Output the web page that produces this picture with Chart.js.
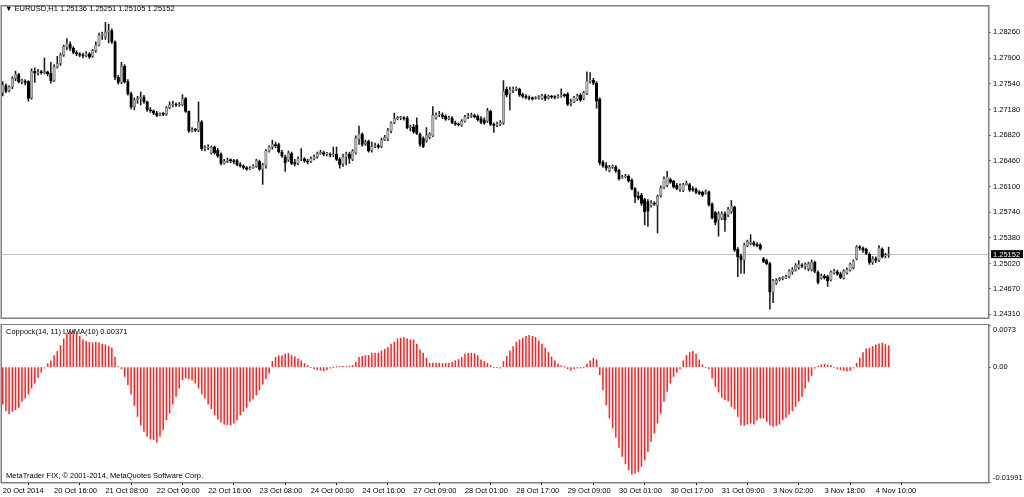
<!DOCTYPE html>
<html>
<head>
<meta charset="utf-8">
<title>EURUSD,H1 - Coppock</title>
<script src="https://cdn.jsdelivr.net/npm/chart.js@4.4.0/dist/chart.umd.min.js"></script>
<style>
  html, body { margin: 0; padding: 0; background: #fff; }
  #wrap { position: relative; width: 1024px; height: 497px; overflow: hidden; font-family: 'Liberation Sans', Arial, sans-serif; }
  #priceChart { position: absolute; left: 0; top: 0; }
  #oscChart { position: absolute; left: 0; top: 324px; }
  .lbl { position: absolute; font-size: 7.5px; line-height: 9px; color: #000; white-space: nowrap; }
</style>
</head>
<body>
<div id="wrap">
  <canvas id="priceChart" width="1024" height="324"></canvas>
  <canvas id="oscChart" width="1024" height="173"></canvas>
  <div class="lbl" id="symbolTitle" style="left:5px; top:4px;"></div>
  <div class="lbl" id="oscTitle" style="left:6px; top:327px;"></div>
  <div class="lbl" style="left:6px; top:471px;">MetaTrader FIX, © 2001-2014, MetaQuotes Software Corp.</div>
</div>
<script>
// EURUSD H1, 20 Oct 2014 00:00 .. 4 Nov 2014 12:00 (one entry per bar)
const open = [
  1.27415, 1.27515, 1.27443, 1.27492, 1.27615, 1.27669, 1.27569, 1.27578, 1.27569, 1.27342,
  1.27715, 1.27688, 1.27706, 1.27697, 1.27706, 1.27688, 1.27583, 1.27778, 1.27824, 1.27942,
  1.28060, 1.28096, 1.28037, 1.27978, 1.27960, 1.27942, 1.27933, 1.27960, 1.27924, 1.28005,
  1.28083, 1.28219, 1.28196, 1.28264, 1.28287, 1.28128, 1.27629, 1.27560, 1.27787, 1.27569,
  1.27401, 1.27220, 1.27311, 1.27333, 1.27356, 1.27288, 1.27174, 1.27161, 1.27129, 1.27097,
  1.27115, 1.27115, 1.27206, 1.27243, 1.27252, 1.27243, 1.27243, 1.27333, 1.27152, 1.26879,
  1.26898, 1.26888, 1.27007, 1.26630, 1.26643, 1.26571, 1.26652, 1.26607, 1.26553, 1.26425,
  1.26453, 1.26471, 1.26462, 1.26462, 1.26407, 1.26389, 1.26366, 1.26348, 1.26362, 1.26380,
  1.26448, 1.26344, 1.26389, 1.26598, 1.26652, 1.26689, 1.26689, 1.26584, 1.26516, 1.26471,
  1.26562, 1.26435, 1.26425, 1.26489, 1.26489, 1.26457, 1.26453, 1.26489, 1.26516, 1.26562,
  1.26575, 1.26553, 1.26553, 1.26539, 1.26553, 1.26480, 1.26416, 1.26516, 1.26553, 1.26480,
  1.26571, 1.26766, 1.26834, 1.26698, 1.26734, 1.26607, 1.26661, 1.26675, 1.26661, 1.26752,
  1.26766, 1.26879, 1.26993, 1.27052, 1.27061, 1.27061, 1.27061, 1.26925, 1.26934, 1.26961,
  1.26834, 1.26780, 1.26743, 1.26789, 1.26811, 1.27061, 1.27106, 1.27106, 1.27084, 1.27052,
  1.27061, 1.26993, 1.26975, 1.26961, 1.27016, 1.27070, 1.27088, 1.27093, 1.27084, 1.27052,
  1.27034, 1.27016, 1.27152, 1.26970, 1.26961, 1.26970, 1.26993, 1.27461, 1.27401, 1.27447,
  1.27461, 1.27461, 1.27388, 1.27365, 1.27347, 1.27333, 1.27333, 1.27342, 1.27333, 1.27370,
  1.27338, 1.27365, 1.27352, 1.27352, 1.27361, 1.27379, 1.27397, 1.27265, 1.27288, 1.27324,
  1.27383, 1.27333, 1.27406, 1.27578, 1.27588, 1.27551, 1.27324, 1.26444, 1.26394, 1.26326,
  1.26371, 1.26375, 1.26326, 1.26221, 1.26235, 1.26244, 1.26189, 1.26071, 1.25971, 1.25980,
  1.25917, 1.25890, 1.25835, 1.25862, 1.25835, 1.25971, 1.26085, 1.26117, 1.26198, 1.26171,
  1.26117, 1.26062, 1.26044, 1.26126, 1.26126, 1.26071, 1.26062, 1.26026, 1.26017, 1.26008,
  1.26026, 1.25853, 1.25735, 1.25631, 1.25654, 1.25717, 1.25699, 1.25744, 1.25812, 1.25218,
  1.25127, 1.25072, 1.25267, 1.25299, 1.25313, 1.25290, 1.25281, 1.25086, 1.25063, 1.25018,
  1.24618, 1.24746, 1.24791, 1.24809, 1.24814, 1.24836, 1.24905, 1.24927, 1.24964, 1.24991,
  1.24982, 1.24950, 1.24936, 1.25036, 1.24900, 1.24814, 1.24845, 1.24836, 1.24791, 1.24891,
  1.24905, 1.24873, 1.24814, 1.24891, 1.24927, 1.24964, 1.25086, 1.25254, 1.25236, 1.25218,
  1.25154, 1.25036, 1.25091, 1.25063, 1.25222, 1.25127, 1.25136
];
const high = [
  1.27569, 1.27538, 1.27515, 1.27642, 1.27719, 1.27688, 1.27606, 1.27597, 1.27583, 1.27751,
  1.27765, 1.27742, 1.27728, 1.27901, 1.27719, 1.27842, 1.27810, 1.27924, 1.27969, 1.28083,
  1.28173, 1.28128, 1.28060, 1.28001, 1.27978, 1.27969, 1.27992, 1.27978, 1.28023, 1.28128,
  1.28250, 1.28264, 1.28400, 1.28378, 1.28310, 1.28142, 1.27660, 1.27842, 1.27810, 1.27597,
  1.27424, 1.27342, 1.27365, 1.27424, 1.27379, 1.27297, 1.27206, 1.27174, 1.27152, 1.27133,
  1.27138, 1.27220, 1.27288, 1.27297, 1.27274, 1.27279, 1.27388, 1.27351, 1.27161, 1.26925,
  1.26916, 1.27288, 1.27025, 1.26675, 1.26689, 1.26670, 1.26666, 1.26634, 1.26571, 1.26480,
  1.26498, 1.26489, 1.26480, 1.26480, 1.26435, 1.26403, 1.26380, 1.26380, 1.26407, 1.26480,
  1.26471, 1.26425, 1.26616, 1.26670, 1.26752, 1.26721, 1.26707, 1.26607, 1.26539, 1.26598,
  1.26584, 1.26480, 1.26516, 1.26630, 1.26507, 1.26484, 1.26516, 1.26544, 1.26584, 1.26607,
  1.26598, 1.26580, 1.26571, 1.26652, 1.26652, 1.26507, 1.26553, 1.26584, 1.26584, 1.26616,
  1.26811, 1.26948, 1.26852, 1.26752, 1.26752, 1.26721, 1.26707, 1.26698, 1.26780, 1.26816,
  1.26916, 1.27007, 1.27129, 1.27084, 1.27084, 1.27079, 1.27079, 1.26961, 1.26970, 1.27061,
  1.26852, 1.26798, 1.26925, 1.26857, 1.27220, 1.27133, 1.27152, 1.27133, 1.27106, 1.27088,
  1.27079, 1.27016, 1.26993, 1.27038, 1.27097, 1.27124, 1.27129, 1.27115, 1.27106, 1.27079,
  1.27061, 1.27197, 1.27170, 1.26993, 1.27002, 1.27025, 1.27583, 1.27492, 1.27492, 1.27492,
  1.27497, 1.27479, 1.27411, 1.27388, 1.27370, 1.27356, 1.27361, 1.27374, 1.27392, 1.27397,
  1.27383, 1.27379, 1.27374, 1.27388, 1.27470, 1.27401, 1.27415, 1.27324, 1.27365, 1.27397,
  1.27401, 1.27433, 1.27706, 1.27697, 1.27615, 1.27569, 1.27342, 1.26462, 1.26435, 1.26398,
  1.26403, 1.26394, 1.26344, 1.26257, 1.26271, 1.26262, 1.26207, 1.26085, 1.26026, 1.26003,
  1.25935, 1.25917, 1.25903, 1.25890, 1.25980, 1.26108, 1.26235, 1.26312, 1.26217, 1.26185,
  1.26144, 1.26139, 1.26144, 1.26176, 1.26144, 1.26099, 1.26080, 1.26044, 1.26035, 1.26053,
  1.26040, 1.25871, 1.25753, 1.25744, 1.25744, 1.25744, 1.25808, 1.25903, 1.25826, 1.25245,
  1.25154, 1.25308, 1.25349, 1.25427, 1.25336, 1.25313, 1.25299, 1.25109, 1.25082, 1.25036,
  1.24800, 1.24809, 1.24827, 1.24836, 1.24859, 1.24936, 1.24964, 1.25018, 1.25063, 1.25018,
  1.25032, 1.25041, 1.25072, 1.25054, 1.24918, 1.24873, 1.24868, 1.24855, 1.24918, 1.24941,
  1.24927, 1.24900, 1.24936, 1.24959, 1.25027, 1.25072, 1.25272, 1.25272, 1.25254, 1.25236,
  1.25172, 1.25118, 1.25113, 1.25272, 1.25240, 1.25163, 1.25251
];
const low = [
  1.27370, 1.27415, 1.27424, 1.27470, 1.27583, 1.27551, 1.27538, 1.27524, 1.27297, 1.27324,
  1.27560, 1.27660, 1.27674, 1.27679, 1.27651, 1.27547, 1.27569, 1.27760, 1.27796, 1.27924,
  1.28014, 1.28005, 1.27960, 1.27933, 1.27915, 1.27901, 1.27915, 1.27896, 1.27910, 1.27978,
  1.28069, 1.28160, 1.28160, 1.28114, 1.28105, 1.27597, 1.27533, 1.27542, 1.27551, 1.27379,
  1.27188, 1.27174, 1.27265, 1.27243, 1.27265, 1.27152, 1.27138, 1.27106, 1.27079, 1.27088,
  1.27093, 1.27097, 1.27188, 1.27215, 1.27220, 1.27224, 1.27229, 1.27138, 1.26857, 1.26866,
  1.26870, 1.26870, 1.26607, 1.26598, 1.26616, 1.26553, 1.26553, 1.26507, 1.26403, 1.26412,
  1.26435, 1.26435, 1.26416, 1.26389, 1.26371, 1.26344, 1.26326, 1.26335, 1.26353, 1.26366,
  1.26326, 1.26130, 1.26357, 1.26580, 1.26625, 1.26643, 1.26571, 1.26507, 1.26312, 1.26453,
  1.26407, 1.26389, 1.26407, 1.26462, 1.26439, 1.26416, 1.26435, 1.26471, 1.26498, 1.26548,
  1.26530, 1.26530, 1.26516, 1.26516, 1.26462, 1.26357, 1.26380, 1.26403, 1.26425, 1.26462,
  1.26553, 1.26689, 1.26666, 1.26675, 1.26580, 1.26580, 1.26643, 1.26634, 1.26643, 1.26743,
  1.26743, 1.26852, 1.26979, 1.27034, 1.27038, 1.27029, 1.26907, 1.26879, 1.26843, 1.26825,
  1.26661, 1.26643, 1.26721, 1.26766, 1.26798, 1.27043, 1.27079, 1.27052, 1.27025, 1.27034,
  1.26979, 1.26957, 1.26948, 1.26943, 1.27002, 1.27052, 1.27070, 1.27061, 1.27020, 1.26979,
  1.26970, 1.26998, 1.26952, 1.26857, 1.26939, 1.26952, 1.26970, 1.27356, 1.27174, 1.27415,
  1.27443, 1.27361, 1.27342, 1.27329, 1.27315, 1.27311, 1.27324, 1.27324, 1.27320, 1.27302,
  1.27324, 1.27333, 1.27329, 1.27338, 1.27347, 1.27352, 1.27234, 1.27229, 1.27274, 1.27302,
  1.27293, 1.27315, 1.27388, 1.27547, 1.27529, 1.27197, 1.26403, 1.26366, 1.26326, 1.26303,
  1.26353, 1.26298, 1.26189, 1.26212, 1.26221, 1.26162, 1.26053, 1.25872, 1.25912, 1.25835,
  1.25563, 1.25540, 1.25812, 1.25835, 1.25449, 1.25949, 1.26071, 1.26099, 1.26144, 1.26076,
  1.26053, 1.26030, 1.26026, 1.26117, 1.26030, 1.26030, 1.25999, 1.25985, 1.25962, 1.25994,
  1.25826, 1.25645, 1.25563, 1.25404, 1.25636, 1.25472, 1.25676, 1.25722, 1.25190, 1.24836,
  1.24882, 1.24882, 1.25254, 1.25281, 1.25263, 1.25254, 1.25209, 1.25032, 1.25004, 1.24382,
  1.24473, 1.24727, 1.24777, 1.24791, 1.24809, 1.24818, 1.24873, 1.24914, 1.24941, 1.24964,
  1.24941, 1.24918, 1.24918, 1.24891, 1.24736, 1.24800, 1.24800, 1.24700, 1.24777, 1.24873,
  1.24855, 1.24809, 1.24800, 1.24873, 1.24914, 1.24946, 1.25072, 1.25209, 1.25177, 1.25145,
  1.25009, 1.25009, 1.25032, 1.25045, 1.25100, 1.25100, 1.25105
];
const close = [
  1.27524, 1.27433, 1.27492, 1.27615, 1.27674, 1.27569, 1.27578, 1.27560, 1.27333, 1.27719,
  1.27688, 1.27706, 1.27697, 1.27706, 1.27679, 1.27583, 1.27778, 1.27824, 1.27946, 1.28060,
  1.28105, 1.28037, 1.27978, 1.27960, 1.27942, 1.27933, 1.27960, 1.27915, 1.28005, 1.28083,
  1.28219, 1.28232, 1.28264, 1.28287, 1.28128, 1.27629, 1.27560, 1.27787, 1.27569, 1.27401,
  1.27220, 1.27311, 1.27333, 1.27356, 1.27288, 1.27174, 1.27161, 1.27129, 1.27097, 1.27115,
  1.27111, 1.27206, 1.27243, 1.27252, 1.27243, 1.27252, 1.27333, 1.27152, 1.26879, 1.26898,
  1.26888, 1.27007, 1.26630, 1.26643, 1.26652, 1.26652, 1.26571, 1.26525, 1.26425, 1.26453,
  1.26471, 1.26462, 1.26444, 1.26403, 1.26389, 1.26366, 1.26344, 1.26362, 1.26389, 1.26462,
  1.26344, 1.26403, 1.26598, 1.26652, 1.26689, 1.26670, 1.26584, 1.26525, 1.26435, 1.26571,
  1.26425, 1.26412, 1.26489, 1.26498, 1.26457, 1.26444, 1.26489, 1.26516, 1.26562, 1.26575,
  1.26553, 1.26557, 1.26539, 1.26548, 1.26480, 1.26403, 1.26516, 1.26553, 1.26494, 1.26598,
  1.26780, 1.26834, 1.26689, 1.26721, 1.26598, 1.26661, 1.26675, 1.26652, 1.26752, 1.26789,
  1.26888, 1.26988, 1.27052, 1.27061, 1.27066, 1.27052, 1.26925, 1.26934, 1.26870, 1.26843,
  1.26689, 1.26661, 1.26825, 1.26834, 1.27097, 1.27106, 1.27115, 1.27084, 1.27043, 1.27061,
  1.26993, 1.26975, 1.26966, 1.27016, 1.27075, 1.27088, 1.27097, 1.27079, 1.27038, 1.26998,
  1.26988, 1.27165, 1.26970, 1.26957, 1.26975, 1.26998, 1.27433, 1.27379, 1.27456, 1.27470,
  1.27470, 1.27379, 1.27361, 1.27347, 1.27333, 1.27329, 1.27342, 1.27356, 1.27374, 1.27333,
  1.27365, 1.27352, 1.27347, 1.27365, 1.27379, 1.27374, 1.27252, 1.27279, 1.27347, 1.27374,
  1.27311, 1.27415, 1.27578, 1.27592, 1.27547, 1.27297, 1.26435, 1.26389, 1.26357, 1.26371,
  1.26375, 1.26317, 1.26207, 1.26235, 1.26244, 1.26180, 1.26071, 1.25953, 1.25935, 1.25862,
  1.25744, 1.25753, 1.25871, 1.25853, 1.25962, 1.26080, 1.26212, 1.26235, 1.26162, 1.26094,
  1.26071, 1.26117, 1.26126, 1.26148, 1.26048, 1.26053, 1.26017, 1.26003, 1.25980, 1.26030,
  1.25844, 1.25663, 1.25595, 1.25717, 1.25717, 1.25636, 1.25781, 1.25826, 1.25209, 1.25113,
  1.25072, 1.25281, 1.25327, 1.25322, 1.25281, 1.25272, 1.25227, 1.25050, 1.25018, 1.24618,
  1.24782, 1.24786, 1.24809, 1.24814, 1.24836, 1.24918, 1.24936, 1.24991, 1.25009, 1.24982,
  1.25009, 1.25018, 1.25036, 1.24909, 1.24755, 1.24850, 1.24823, 1.24777, 1.24900, 1.24918,
  1.24873, 1.24827, 1.24918, 1.24936, 1.25009, 1.25054, 1.25254, 1.25236, 1.25209, 1.25163,
  1.25036, 1.25086, 1.25063, 1.25236, 1.25118, 1.25131, 1.25152
];
// Coppock(14, 11) LWMA(10), one value per bar
const coppock = [
  -0.00642, -0.00757, -0.00809, -0.00769, -0.00740, -0.00699, -0.00595, -0.00538, -0.00468, -0.00364,
  -0.00277, -0.00179, -0.00087, -0.00017, 0.00058, 0.00110, 0.00202, 0.00272, 0.00376, 0.00491,
  0.00572, 0.00618, 0.00630, 0.00590, 0.00532, 0.00474, 0.00445, 0.00428, 0.00422, 0.00434,
  0.00422, 0.00399, 0.00387, 0.00358, 0.00329, 0.00168, 0.00006, -0.00029, -0.00162, -0.00306,
  -0.00468, -0.00665, -0.00855, -0.01000, -0.01116, -0.01202, -0.01243, -0.01260, -0.01301, -0.01202,
  -0.01087, -0.00913, -0.00798, -0.00642, -0.00509, -0.00364, -0.00220, -0.00191, -0.00202, -0.00225,
  -0.00277, -0.00364, -0.00468, -0.00538, -0.00642, -0.00723, -0.00827, -0.00902, -0.00954, -0.00988,
  -0.01000, -0.01000, -0.00971, -0.00913, -0.00827, -0.00769, -0.00699, -0.00595, -0.00549, -0.00480,
  -0.00393, -0.00295, -0.00202, -0.00104, 0.00098, 0.00168, 0.00197, 0.00202, 0.00225, 0.00237,
  0.00202, 0.00179, 0.00145, 0.00110, 0.00064, 0.00029, -0.00006, -0.00029, -0.00046, -0.00052,
  -0.00064, -0.00046, -0.00017, -0.00002, 0.00002, 0.00003, 0.00012, 0.00006, 0.00017, 0.00029,
  0.00087, 0.00168, 0.00185, 0.00202, 0.00202, 0.00243, 0.00243, 0.00243, 0.00283, 0.00312,
  0.00341, 0.00399, 0.00434, 0.00491, 0.00503, 0.00514, 0.00491, 0.00474, 0.00474, 0.00399,
  0.00301, 0.00243, 0.00156, 0.00069, 0.00069, 0.00069, 0.00069, 0.00064, 0.00064, 0.00069,
  0.00081, 0.00110, 0.00133, 0.00168, 0.00225, 0.00237, 0.00243, 0.00237, 0.00202, 0.00127,
  0.00098, 0.00064, 0.00029, -0.00006, -0.00006, -0.00017, 0.00098, 0.00185, 0.00283, 0.00358,
  0.00434, 0.00474, 0.00503, 0.00532, 0.00549, 0.00532, 0.00514, 0.00457, 0.00399, 0.00329,
  0.00260, 0.00179, 0.00110, 0.00052, 0.00023, 0.00002, -0.00029, -0.00052, -0.00029, -0.00017,
  -0.00017, -0.00006, 0.00052, 0.00110, 0.00156, 0.00127, -0.00133, -0.00393, -0.00653, -0.00884,
  -0.01058, -0.01220, -0.01393, -0.01549, -0.01676, -0.01780, -0.01855, -0.01838, -0.01809, -0.01722,
  -0.01607, -0.01462, -0.01289, -0.01144, -0.00971, -0.00798, -0.00595, -0.00422, -0.00277, -0.00162,
  -0.00087, -0.00029, 0.00110, 0.00202, 0.00254, 0.00272, 0.00225, 0.00127, 0.00040, -0.00006,
  -0.00029, -0.00191, -0.00335, -0.00434, -0.00526, -0.00566, -0.00584, -0.00682, -0.00723, -0.00855,
  -0.01000, -0.01012, -0.00988, -0.00971, -0.00988, -0.00913, -0.00884, -0.00884, -0.00942, -0.01000,
  -0.01029, -0.01012, -0.00988, -0.00913, -0.00873, -0.00815, -0.00757, -0.00682, -0.00584, -0.00509,
  -0.00364, -0.00249, -0.00145, -0.00017, 0.00012, 0.00040, 0.00052, 0.00035, 0.00029, -0.00006,
  -0.00029, -0.00046, -0.00058, -0.00064, -0.00058, -0.00017, 0.00069, 0.00156, 0.00254, 0.00318,
  0.00329, 0.00358, 0.00387, 0.00405, 0.00416, 0.00399, 0.00371
];
// time axis labels, one every 16 bars
const timeLabels = [
  '20 Oct 2014', '20 Oct 16:00', '21 Oct 08:00', '22 Oct 00:00', '22 Oct 16:00', '23 Oct 08:00',
  '24 Oct 00:00', '24 Oct 16:00', '27 Oct 09:00', '28 Oct 01:00', '28 Oct 17:00', '29 Oct 09:00',
  '30 Oct 01:00', '30 Oct 17:00', '31 Oct 09:00', '3 Nov 02:00', '3 Nov 18:00', '4 Nov 10:00'
];
const priceTicks = [1.28260, 1.27900, 1.27540, 1.27180, 1.26820, 1.26460, 1.26100, 1.25740, 1.25380, 1.25020, 1.24670, 1.24310];
const oscTicks = [0.0073, 0, -0.01991];
const oscTickLabels = ['0.0073', '0.00', '-0.01991'];

const BARS_PER_LABEL = 16;
const X_MIN = -0.22, X_MAX = 306.95;
const PRICE_MIN = 1.24264, PRICE_MAX = 1.28623;
const FONT = { family: "'Liberation Sans', Arial, sans-serif", size: 7.5 };
const FRAME = '#808080';

Chart.defaults.font.family = FONT.family;
Chart.defaults.font.size = FONT.size;
Chart.defaults.color = '#000';

const last = close.length - 1;
document.getElementById('symbolTitle').textContent =
  '\u25BC EURUSD,H1  ' + [open[last], high[last], low[last], close[last]].map(v => v.toFixed(5)).join(' ');
document.getElementById('oscTitle').textContent = 'Coppock(14, 11) LWMA(10) ' + coppock[last].toFixed(5);

const framePlugin = {
  id: 'frame',
  afterDraw(chart) {
    const { ctx, chartArea: a } = chart;
    ctx.save();
    ctx.strokeStyle = FRAME;
    ctx.lineWidth = 1.5;
    ctx.strokeRect(a.left - 0.75, a.top - 0.75, a.right - a.left + 1.5, a.bottom - a.top + 1.5);
    ctx.restore();
  }
};

const lastPricePlugin = {
  id: 'lastPrice',
  beforeDatasetsDraw(chart) {
    const { ctx, chartArea: a } = chart;
    const y = Math.round(chart.scales.y.getPixelForValue(close[last])) + 0.5;
    ctx.save();
    ctx.strokeStyle = '#c0c0c0';
    ctx.lineWidth = 1;
    ctx.beginPath();
    ctx.moveTo(a.left, y);
    ctx.lineTo(a.right, y);
    ctx.stroke();
    ctx.restore();
  },
  afterDraw(chart) {
    const { ctx, chartArea: a } = chart;
    const y = chart.scales.y.getPixelForValue(close[last]);
    ctx.save();
    ctx.fillStyle = '#000';
    ctx.fillRect(a.right + 3, y - 4, 32, 8);
    ctx.fillStyle = '#fff';
    ctx.font = `${FONT.size}px ${FONT.family}`;
    ctx.textBaseline = 'middle';
    ctx.fillText(close[last].toFixed(5), a.right + 5, y + 0.5);
    ctx.restore();
  }
};

const oscLabelsPlugin = {
  id: 'oscLabels',
  afterDraw(chart) {
    const { ctx } = chart;
    const s = chart.scales.y;
    ctx.save();
    ctx.fillStyle = '#000';
    ctx.font = `${FONT.size}px ${FONT.family}`;
    ctx.textBaseline = 'middle';
    oscTicks.forEach((v, k) => {
      const y = Math.min(Math.max(s.getPixelForValue(v), s.top + 5), s.bottom - 4);
      ctx.fillText(oscTickLabels[k], s.left + 5, y);
    });
    ctx.restore();
  }
};

new Chart(document.getElementById('priceChart'), {
  type: 'bar',
  data: {
    datasets: [
      {
        label: 'body',
        data: close.map((c, i) => ({ x: i, y: [open[i], c] })),
        backgroundColor: close.map((c, i) => (c >= open[i] ? '#b4b4b4' : '#000000')),
        borderColor: close.map((c, i) => (c >= open[i] ? '#6a6a6a' : '#000000')),
        borderWidth: 0.7,
        borderSkipped: false,
        barThickness: 2.6,
        minBarLength: 1,
        grouped: false,
        order: 1
      },
      {
        label: 'wick',
        data: high.map((h, i) => ({ x: i, y: [low[i], h] })),
        backgroundColor: '#1a1a1a',
        barThickness: 0.9,
        grouped: false,
        order: 2
      }
    ]
  },
  options: {
    responsive: false,
    animation: false,
    devicePixelRatio: 1,
    layout: { padding: { left: 2, top: 2, right: 0, bottom: 2 } },
    plugins: { legend: { display: false }, tooltip: { enabled: false } },
    scales: {
      x: { type: 'linear', min: X_MIN, max: X_MAX, offset: false, display: false },
      y: {
        position: 'right',
        min: PRICE_MIN,
        max: PRICE_MAX,
        afterBuildTicks: s => { s.ticks = priceTicks.map(v => ({ value: v })); },
        afterFit: s => { s.width = 36; },
        ticks: { padding: 2, callback: v => v.toFixed(5) },
        grid: { drawOnChartArea: false, tickLength: 3, color: FRAME },
        border: { display: false }
      }
    }
  },
  plugins: [lastPricePlugin, framePlugin]
});

new Chart(document.getElementById('oscChart'), {
  type: 'bar',
  data: {
    datasets: [{
      label: 'Coppock',
      data: coppock.map((v, i) => ({ x: i, y: v })),
      backgroundColor: '#ff2020',
      barThickness: 0.85,
      grouped: false
    }]
  },
  options: {
    responsive: false,
    animation: false,
    devicePixelRatio: 1,
    layout: { padding: { left: 2, top: 1, right: 0, bottom: 0 } },
    plugins: { legend: { display: false }, tooltip: { enabled: false } },
    scales: {
      x: {
        type: 'linear',
        min: X_MIN,
        max: X_MAX,
        offset: false,
        afterBuildTicks: s => { s.ticks = timeLabels.map((_, k) => ({ value: k * BARS_PER_LABEL })); },
        afterFit: s => { s.height = 15; },
        ticks: { align: 'start', maxRotation: 0, autoSkip: false, padding: 1, callback: (v, i) => timeLabels[i] },
        grid: { drawOnChartArea: false, tickLength: 3, color: '#000' },
        border: { display: false }
      },
      y: {
        position: 'right',
        min: oscTicks[2],
        max: oscTicks[0],
        afterBuildTicks: s => { s.ticks = oscTicks.map(v => ({ value: v })); },
        afterFit: s => { s.width = 36; },
        ticks: { display: false },
        grid: { drawOnChartArea: false, tickLength: 3, color: FRAME },
        border: { display: false }
      }
    }
  },
  plugins: [oscLabelsPlugin, framePlugin]
});
</script>
</body>
</html>
